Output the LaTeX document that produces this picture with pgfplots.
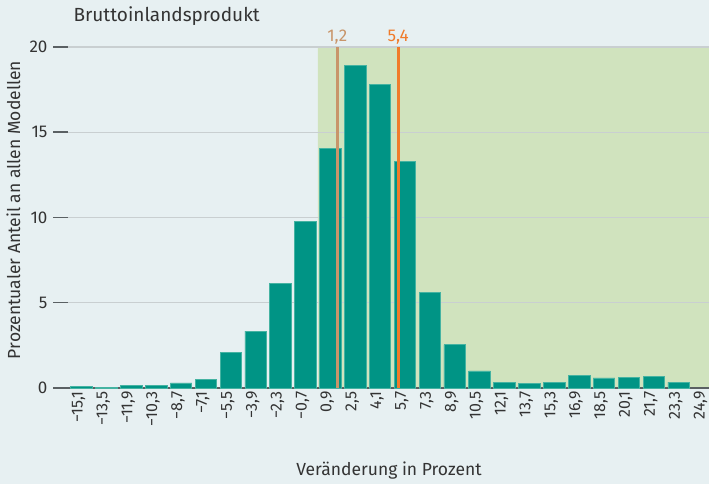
\documentclass[border=0pt]{standalone}
\usepackage{pgfplots}
\pgfplotsset{compat=1.18}
\usepackage{fontspec}
\setmainfont{Fira Sans}
\definecolor{bgc}{HTML}{E7F0F2}
\definecolor{greenbg}{HTML}{D0E3BE}
\definecolor{barc}{HTML}{009485}
\definecolor{barb}{HTML}{45B3A2}
\definecolor{tanc}{HTML}{C8956A}
\definecolor{orc}{HTML}{F07B2A}
\definecolor{gridc}{HTML}{C9CFD1}
\definecolor{axc}{HTML}{5A6063}
\definecolor{txt}{HTML}{333333}
\pagecolor{bgc}
\begin{document}
\begin{tikzpicture}
\begin{axis}[
  at={(53pt,96pt)}, anchor=south west,
  scale only axis, width=656pt, height=341pt,
  xmin=-1.145, xmax=25.22, ymin=0, ymax=20,
  set layers, clip=false,
  axis x line*=bottom, axis y line*=left,
  y axis line style={draw=none},
  x axis line style={-, draw=axc, line width=1.5pt},
  xtick={0,...,25},
  xticklabels={{−15,1},{−13,5},{−11,9},{−10,3},{−8,7},{−7,1},{−5,5},{−3,9},{−2,3},{−0,7},{0,9},{2,5},{4,1},{5,7},{7,3},{8,9},{10,5},{12,1},{13,7},{15,3},{16,9},{18,5},{20,1},{21,7},{23,3},{24,9}},
  xtick style={draw=none},
  ytick={0,5,10,15,20},
  ytick style={draw=axc, line width=1.5pt},
  tick align=inside, major tick length=15pt,
  ymajorgrids, grid style={draw=gridc, line width=1.3pt},
  xticklabel style={rotate=90, anchor=east, yshift=3pt, font=\fontsize{16}{18}\selectfont, text=txt},
  yticklabel style={font=\fontsize{17}{19}\selectfont, text=txt, xshift=-2pt},
  /pgf/number format/assume math mode=true,
]
\addplot[on layer=axis background, fill=greenbg, draw=none] coordinates {(9.5,0)(9.5,20)(25.22,20)(25.22,0)} \closedcycle;
\addplot[ybar, bar width=0.865, fill=barc, draw=barb, line width=0.7pt] coordinates {
(0,0.07)(1,0.02)(2,0.13)(3,0.13)(4,0.30)(5,0.52)(6,2.11)(7,3.33)(8,6.12)(9,9.75)
(10,14.07)(11,18.9)(12,17.78)(13,13.28)(14,5.63)(15,2.54)(16,1.0)(17,0.33)(18,0.29)(19,0.31)
(20,0.72)(21,0.59)(22,0.64)(23,0.70)(24,0.35)};
\addplot[tanc, line width=2.7pt] coordinates {(10.28,0)(10.28,20)};
\addplot[orc, line width=2.7pt] coordinates {(12.73,0)(12.73,20)};
\node[anchor=base, yshift=5.5pt, text=tanc, font=\fontsize{17}{19}\selectfont] at (axis cs:10.28,20) {1,2};
\node[anchor=base, yshift=5.5pt, text=orc, font=\fontsize{17}{19}\selectfont] at (axis cs:12.73,20) {5,4};
\end{axis}
\node[anchor=base west, text=txt, font=\fontsize{19}{22}\selectfont] at (70pt,462.3pt) {Bruttoinlandsprodukt};
\node[rotate=90, anchor=base, text=txt, font=\fontsize{17.5}{20}\selectfont] at (20pt,274pt) {Prozentualer Anteil an allen Modellen};
\node[anchor=base, text=txt, font=\fontsize{17.5}{20}\selectfont] at (389pt,8pt) {Veränderung in Prozent};
\pgfresetboundingbox
\useasboundingbox (0,0) rectangle (709pt,484pt);
\end{tikzpicture}
\end{document}
